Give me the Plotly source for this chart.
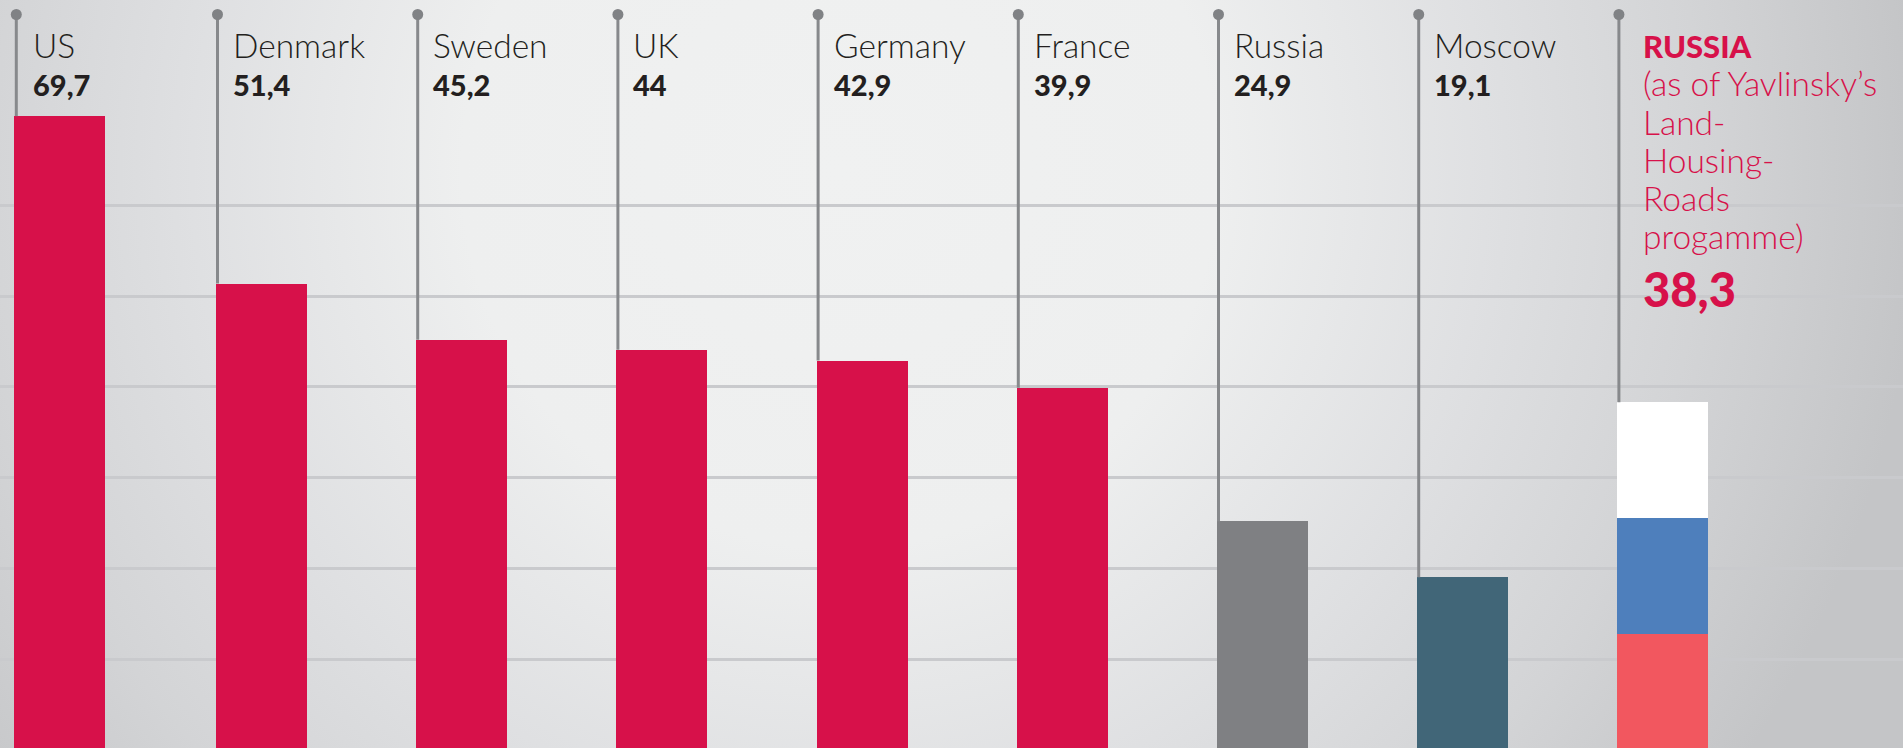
import plotly.graph_objects as go
from urllib.parse import quote

categories = ["US", "Denmark", "Sweden", "UK", "Germany", "France", "Russia", "Moscow"]
value_labels = ["69,7", "51,4", "45,2", "44", "42,9", "39,9", "24,9", "19,1"]
# bar heights as measured against the gridlines of the picture
bar_values = [69.85, 51.4, 45.2, 44.1, 42.9, 39.9, 25.2, 19.0]
bar_colors = ["#d7114a"] * 6 + ["#7f8083", "#416678"]

programme_label = "RUSSIA"
programme_note = ["(as of Yavlinsky’s", "Land-", "Housing-", "Roads", "progamme)"]
programme_total = 38.3
programme_total_label = "38,3"
flag_red = 12.8
flag_blue = 12.7
flag_white = 12.8

grid_values = [10, 20, 30, 40, 50, 60]

W, H = 1903, 748
PX_PER_UNIT = 9.07
BASE_PX = 749.7
STEP_PX = 200.2
FIRST_CENTER_PX = 61.3


def yv(px):
    return (BASE_PX - px) / PX_PER_UNIT


def xv(px_offset):
    return px_offset / STEP_PX


idx = list(range(len(categories) + 1))
bar_x = list(idx[:-1])
bar_x[0] += xv(-1.8)

stem_x, stem_y = [], []
tops = bar_values + [programme_total]
stem_top = yv(14.5)
stem_off = xv(-44)
dot_x = []
for i, t in zip(idx, tops):
    sx = i + stem_off + (xv(-1) if i == 0 else 0)
    dot_x.append(sx)
    stem_x += [sx, sx, None]
    stem_y += [stem_top, t, None]

bg = (
    f"<svg xmlns='http://www.w3.org/2000/svg' width='{W}' height='{H}' viewBox='0 0 {W} {H}'>"
    "<defs><radialGradient id='g' gradientUnits='userSpaceOnUse' cx='840' cy='170' r='1080'>"
    "<stop offset='0' stop-color='#f0f1f1'/>"
    "<stop offset='0.35' stop-color='#eeefef'/>"
    "<stop offset='0.6' stop-color='#dfe0e2'/>"
    "<stop offset='0.8' stop-color='#d3d4d6'/>"
    "<stop offset='1' stop-color='#c4c5c7'/>"
    "</radialGradient></defs>"
    f"<rect width='{W}' height='{H}' fill='url(#g)'/></svg>"
)

fig = go.Figure()
bw = 91 / STEP_PX
fig.add_bar(x=bar_x, y=bar_values, width=bw, marker=dict(color=bar_colors, line_width=0), hoverinfo="skip")
for v, c in [(flag_red, "#f2575f"), (flag_blue, "#4e7fbc"), (flag_white, "#ffffff")]:
    fig.add_bar(x=[idx[-1]], y=[v], width=bw, marker=dict(color=c, line_width=0), hoverinfo="skip")

fig.add_scatter(x=stem_x, y=stem_y, mode="lines", line=dict(color="#87898c", width=3), hoverinfo="skip")
fig.add_scatter(
    x=dot_x, y=[stem_top] * len(idx), mode="markers",
    marker=dict(color="#808285", size=11), hoverinfo="skip",
)

FONT = "Lato"
DARK = "#231f20"
RED = "#d7114a"
text_off = xv(-28.5)
NAME_SIZE = 33.5
NUM_SIZE = 29


def label(i, baseline_px, text, size, color, weight, extra_px=0.0, descent=0.245):
    fig.add_annotation(
        x=i + text_off + xv(extra_px), y=yv(baseline_px + size * descent), xref="x", yref="y",
        text=text, showarrow=False, xanchor="left", yanchor="bottom", align="left",
        borderpad=0, borderwidth=0,
        font=dict(family=FONT, size=size, color=color, weight=weight),
    )


for i, (name, v) in enumerate(zip(categories, value_labels)):
    label(i, 57, name, NAME_SIZE, DARK, 300)
    label(i, 94.5, v, NUM_SIZE, DARK, 900)

last = idx[-1]
label(last, 57, programme_label, 31, RED, 900, extra_px=9)
for k, line in enumerate(programme_note):
    label(last, 95 + k * 38.3, line, NAME_SIZE, RED, 300, extra_px=9)
label(last, 305, programme_total_label, 47, RED, 900, extra_px=9)

fig.update_layout(
    width=W, height=H, autosize=False, barmode="stack", showlegend=False,
    margin=dict(l=0, r=0, t=0, b=0, pad=0),
    paper_bgcolor="#dcdde0", plot_bgcolor="rgba(0,0,0,0)",
    xaxis=dict(range=[-FIRST_CENTER_PX / STEP_PX, (W - FIRST_CENTER_PX) / STEP_PX], visible=False, fixedrange=True),
    yaxis=dict(
        range=[yv(H), yv(0)], fixedrange=True, showline=False, zeroline=False,
        tickvals=grid_values, showticklabels=False, ticks="",
        showgrid=True, gridcolor="#c9cacd", gridwidth=3,
    ),
    images=[dict(
        source="data:image/svg+xml," + quote(bg), xref="paper", yref="paper",
        x=0, y=1, sizex=1, sizey=1, xanchor="left", yanchor="top",
        sizing="stretch", layer="below",
    )],
)

fig.write_html(
    "out.html",
    config={"displayModeBar": False, "responsive": False},
    post_script="document.body.style.margin='0';document.body.style.overflow='hidden';",
)
